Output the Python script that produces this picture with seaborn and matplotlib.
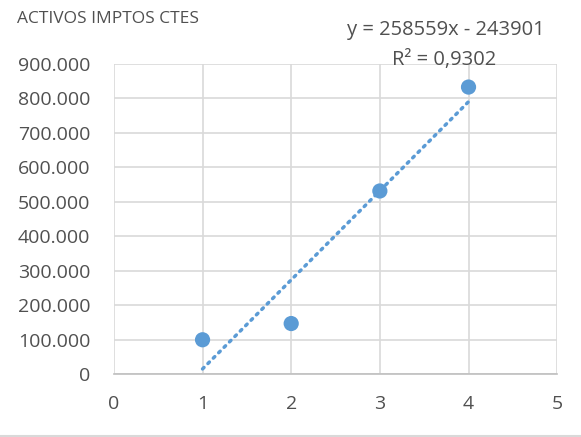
import numpy as np
import pandas as pd
import matplotlib
matplotlib.use("Agg")
import matplotlib.pyplot as plt
import seaborn as sns
from matplotlib.ticker import FuncFormatter

# data
periodo = [1, 2, 3, 4]
activos = [100000, 147000, 531000, 832000]
x_ticks = [0, 1, 2, 3, 4, 5]
y_ticks = [0, 100000, 200000, 300000, 400000, 500000, 600000, 700000, 800000, 900000]

df = pd.DataFrame({"periodo": periodo, "activos": activos})

sns.set_theme(style="white")
plt.rcParams['font.family'] = ['Open Sans', 'DejaVu Sans']

color = "#5B9BD5"
txt = "#505050"
fig = plt.figure(figsize=(5.81, 4.37), dpi=100)
ax = fig.add_axes([0.196, 0.1435, 0.763, 0.711])

# linear trendline (Excel style, dotted)
m, b = np.polyfit(df["periodo"], df["activos"], 1)
xs = np.array([min(periodo), max(periodo)])
ax.plot(xs, m * xs + b, color=color, lw=2.5, ls=(0, (0.6, 1.6)), dash_capstyle="round", zorder=2)

sns.scatterplot(data=df, x="periodo", y="activos", color=color, s=120, edgecolor="none", ax=ax, zorder=3)

ax.set_xlim(0, 5)
ax.set_ylim(0, 900000)
ax.set_xticks(x_ticks)
ax.set_yticks(y_ticks)
ax.yaxis.set_major_formatter(FuncFormatter(lambda v, p: f"{int(v):,}".replace(",", ".")))
ax.grid(True, color="#D9D9D9", lw=1.2)
ax.set_axisbelow(True)
for s in ["top", "right", "left"]:
    ax.spines[s].set_visible(False)
ax.spines["bottom"].set_color("#BFBFBF")
ax.spines["bottom"].set_linewidth(1.2)
ax.tick_params(axis="both", length=0, labelsize=14, colors=txt)
ax.tick_params(axis="x", pad=15)
ax.tick_params(axis="y", pad=17)
ax.set_xlabel("")
ax.set_ylabel("")

fig.text(0.029, 0.957, "ACTIVOS IMPTOS CTES", fontsize=12.5, color=txt, va="center")
fig.text(0.767, 0.931, "y = 258559x - 243901", fontsize=14.5, color=txt, ha="center", va="center")
fig.text(0.764, 0.863, "R² = 0,9302", fontsize=14.5, color=txt, ha="center", va="center")

# light chart border at the bottom
fig.add_artist(plt.Line2D([0, 1], [0.003, 0.003], color="#D9D9D9", lw=1.5))

fig.savefig("out.png", dpi=100)
